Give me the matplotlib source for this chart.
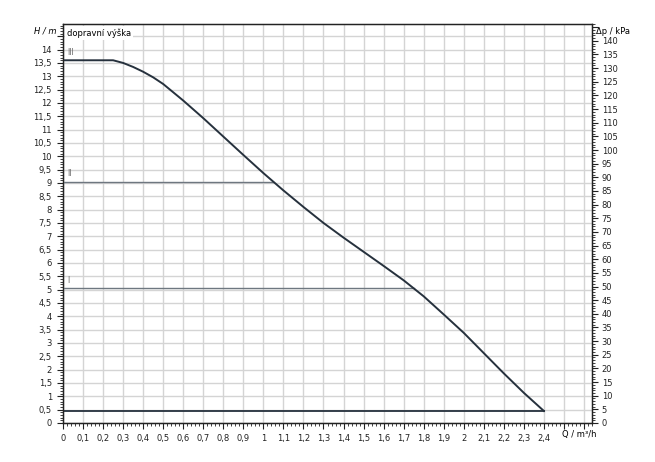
import matplotlib
matplotlib.use("Agg")
import matplotlib.pyplot as plt
from matplotlib.ticker import MultipleLocator, FuncFormatter

# Data
Q = [0, 0.25, 0.3, 0.35, 0.4, 0.45, 0.5, 0.6, 0.7, 0.8, 0.9, 1.0, 1.1, 1.2,
     1.3, 1.4, 1.5, 1.6, 1.7, 1.8, 1.9, 2.0, 2.1, 2.2, 2.3, 2.4]
H = [13.6, 13.6, 13.5, 13.35, 13.17, 12.96, 12.71, 12.09, 11.43, 10.74,
     10.05, 9.37, 8.72, 8.1, 7.5, 6.95, 6.42, 5.89, 5.35, 4.75, 4.07, 3.38,
     2.62, 1.86, 1.13, 0.45]
levels = ["III", "II", "I"]
level_H = [13.6, 9.05, 5.05]
level_Q = [0.25, 1.05, 1.75]
H_min = 0.45
Q_max = 2.4
kpa_per_m = 9.77

fig = plt.figure(figsize=(6.55, 4.62), dpi=100)
ax = fig.add_axes([63/655, 1-423/462, (592-63)/655, (423-24)/462])
xmax = Q_max * 1.1
ymax = 13.6 * 1.1
ax.set_xlim(0, xmax)
ax.set_ylim(0, ymax)

fs = 6
dark = "#26313d"

ax.xaxis.set_major_locator(MultipleLocator(0.1))
ax.xaxis.set_minor_locator(MultipleLocator(0.02))
ax.yaxis.set_major_locator(MultipleLocator(0.5))
ax.yaxis.set_minor_locator(MultipleLocator(0.1))
ax.grid(True, which="major", color="#d4d4d4", linewidth=1.0)
ax.set_axisbelow(True)

def fmt(v):
    s = ("%.1f" % v).rstrip("0").rstrip(".")
    return s.replace(".", ",")

ax.xaxis.set_major_formatter(FuncFormatter(lambda v, p: fmt(v) if v <= Q_max + 1e-6 else ""))
ax.yaxis.set_major_formatter(FuncFormatter(lambda v, p: fmt(v) if v <= 14 + 1e-6 else ""))
ax.tick_params(axis="x", which="major", pad=4)
ax.tick_params(axis="y", which="major", pad=4)
ax.tick_params(which="major", length=4, width=0.8, labelsize=fs, colors="#222222")
ax.tick_params(which="minor", length=2.5, width=0.6, colors="#222222")
for s in ax.spines.values():
    s.set_color("#222222")
    s.set_linewidth(1.0)

for name, lh, lq in zip(levels, level_H, level_Q):
    if name != "III":
        ax.plot([0, lq], [lh, lh], color="#6e7780", linewidth=1.0, zorder=3)
    ax.text(0.02, lh + 0.12, name, fontsize=5.5, color="#666666", ha="left", va="bottom")

ax.plot([0, Q_max], [H_min, H_min], color=dark, linewidth=1.3, zorder=4)
ax.plot(Q, H, color=dark, linewidth=1.4, zorder=4)

ax2 = ax.twinx()
ax2.set_ylim(0, ymax * kpa_per_m)
ax2.yaxis.set_major_locator(MultipleLocator(5))
ax2.yaxis.set_minor_locator(MultipleLocator(1))
ax2.yaxis.set_major_formatter(FuncFormatter(lambda v, p: "%d" % v if v <= 140 else ""))
ax2.tick_params(which="major", length=4, width=0.8, labelsize=fs, colors="#222222", pad=3)
ax2.tick_params(which="minor", length=2.5, width=0.6, colors="#222222")
for s in ax2.spines.values():
    s.set_color("#222222")

fig.text(57/655, 1-31/462, "H / m", fontsize=fs, style="italic", ha="right", va="center")
fig.text(596/655, 1-31/462, "Δp / kPa", fontsize=fs, ha="left", va="center")
fig.text(579/655, 1-435/462, "Q / m³/h", fontsize=fs, ha="center", va="center")
ax.text(0.02, ymax - 0.15, "dopravní výška", fontsize=fs, ha="left", va="top",
        bbox=dict(facecolor="white", edgecolor="none", pad=1.5), zorder=5)

fig.savefig("out.png", dpi=100)
